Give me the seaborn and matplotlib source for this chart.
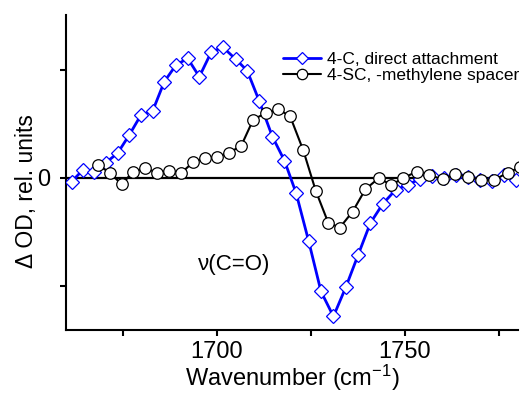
import numpy as np
import pandas as pd
import matplotlib
matplotlib.use("Agg")
import matplotlib.pyplot as plt
import seaborn as sns

# 4-C, direct attachment
wn_c = [1661.5, 1664.5, 1667.4, 1670.6, 1673.7, 1676.8, 1679.9, 1683.0, 1686.1, 1689.2,
        1692.3, 1695.4, 1698.6, 1701.7, 1705.1, 1708.1, 1711.3, 1714.8, 1718.0, 1721.1,
        1724.4, 1727.7, 1731.0, 1734.3, 1737.5, 1740.8, 1744.1, 1747.5, 1750.7, 1753.9,
        1757.1, 1760.3, 1763.5, 1766.7, 1769.9, 1773.1, 1776.3, 1779.5]
od_c = [-0.034, 0.074, 0.058, 0.142, 0.229, 0.398, 0.583, 0.620, 0.892, 1.046,
        1.108, 0.938, 1.169, 1.210, 1.099, 0.994, 0.713, 0.382, 0.160, -0.142,
        -0.583, -1.053, -1.284, -1.012, -0.719, -0.419, -0.241, -0.111, -0.065, -0.010,
        0.020, 0.000, 0.030, 0.010, -0.020, -0.030, 0.030, -0.020]

# 4-SC, -methylene spacer
wn_sc = [1668.6, 1671.6, 1674.8, 1677.8, 1681.1, 1684.2, 1687.4, 1690.6, 1693.7, 1696.8,
         1700.1, 1703.3, 1706.5, 1709.7, 1713.1, 1716.4, 1719.5, 1723.0, 1726.3, 1729.6,
         1732.7, 1736.1, 1739.5, 1743.0, 1746.4, 1749.6, 1753.1, 1756.4, 1760.0, 1763.4,
         1766.8, 1770.2, 1773.7, 1777.3, 1780.6]
od_sc = [0.116, 0.049, -0.060, 0.058, 0.090, 0.049, 0.063, 0.046, 0.144, 0.182,
         0.194, 0.234, 0.296, 0.540, 0.602, 0.636, 0.571, 0.255, -0.119, -0.414,
         -0.461, -0.312, -0.105, -0.003, -0.065, 0.000, 0.058, 0.025, -0.012, 0.035,
         0.012, -0.019, -0.019, 0.049, 0.099]

x_ticks = [1675, 1700, 1725, 1750, 1775]
x_ticklabels = ["", "1700", "", "1750", ""]
y_ticks = [-1, 0, 1]
y_ticklabels = ["", "0", ""]

labels = ["4-C, direct attachment", "4-SC, -methylene spacer"]

sns.set_style("white")
plt.rcParams["font.family"] = ["Liberation Sans", "DejaVu Sans"]
plt.rcParams["text.color"] = "black"
plt.rcParams["axes.labelcolor"] = "black"
plt.rcParams["xtick.color"] = "black"
plt.rcParams["ytick.color"] = "black"
plt.rcParams["mathtext.default"] = "regular"

fig = plt.figure(figsize=(5.26, 3.96), dpi=100)
ax = fig.add_axes([66/526, 1 - 330/396, (518 - 66)/526, (330 - 15)/396])

ax.axhline(0, color="black", lw=1.6, zorder=1)

df_c = pd.DataFrame({"wn": wn_c, "od": od_c})
df_sc = pd.DataFrame({"wn": wn_sc, "od": od_sc})

sns.lineplot(data=df_c, x="wn", y="od", ax=ax, color="#0000ff", lw=2.0,
             marker="D", markersize=7, markerfacecolor="white",
             markeredgecolor="#0000ff", markeredgewidth=0.9, label=labels[0], zorder=3)
sns.lineplot(data=df_sc, x="wn", y="od", ax=ax, color="black", lw=1.5,
             marker="o", markersize=8.3, markerfacecolor="white",
             markeredgecolor="black", markeredgewidth=0.9, label=labels[1], zorder=4)

ax.set_xlim(1660, 1780)
ax.set_ylim(-1.41, 1.51)

ax.set_xticks(x_ticks)
ax.set_xticklabels(x_ticklabels)
ax.set_yticks(y_ticks)
ax.set_yticklabels(y_ticklabels)

for s in ["top", "right"]:
    ax.spines[s].set_visible(False)
for s in ["left", "bottom"]:
    ax.spines[s].set_color("black")
    ax.spines[s].set_linewidth(1.5)

ax.tick_params(axis="both", direction="out", length=4, width=1.5, color="black",
               labelsize=17, pad=4, left=True, bottom=True)
ax.tick_params(axis="y", pad=7)

ax.set_xlabel("Wavenumber (cm$^{-1}$)", fontsize=17, labelpad=0)
ax.set_ylabel("\u0394 OD, rel. units", fontsize=16.5)
ax.yaxis.set_label_coords(-0.062, 0.44)

ax.text(1695, -0.8, "\u03bd(C=O)", fontsize=16, ha="left", va="center")

leg = ax.legend(loc="upper right", bbox_to_anchor=(1.025, 0.915), frameon=False,
                fontsize=12.5, handlelength=2.2, handletextpad=0.3, labelspacing=0.05,
                borderaxespad=0.2)
for h in leg.legend_handles:
    h.set_markersize(h.get_markersize() * 0.9)

fig.savefig("out.png", dpi=100)
